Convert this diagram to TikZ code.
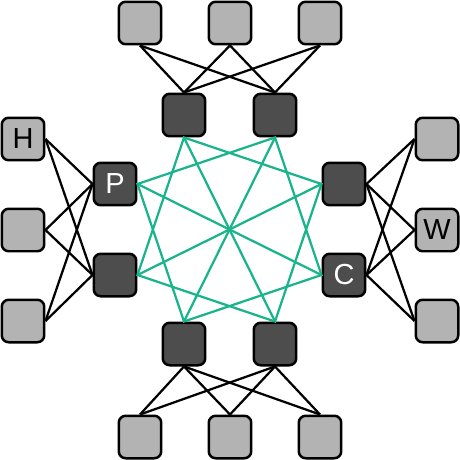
\documentclass[tikz,border=0pt]{standalone}
\usepackage{fontspec}
\setsansfont{Liberation Sans}
\usepackage{xcolor}
\usepackage{tikz}
\usetikzlibrary{positioning}

\definecolor{lightbox}{HTML}{B3B3B3}
\definecolor{darkbox}{HTML}{4D4D4D}
\definecolor{meshgreen}{RGB}{26,180,140}

\tikzset{
  outer/.style={draw=black, fill=lightbox, line width=0.05cm, rounded corners=0.14cm,
    minimum size=0.85cm, inner sep=0pt, font=\sffamily\fontsize{16.5}{16.5}\selectfont, text=black},
  inner/.style={outer, fill=darkbox, text=white},
  wire/.style={black, line width=0.045cm},
  mesh/.style={meshgreen, line width=0.045cm}
}

\begin{document}
\begin{tikzpicture}[x=0.02cm, y=-0.02cm]
\useasboundingbox (0,0) rectangle (460,460);
% outer row, top
\node[outer] (t1) at (140,23) {};
\node[outer] (t2) at (230,23) {};
\node[outer] (t3) at (320,23) {};
% outer row, bottom
\node[outer] (b1) at (140,437) {};
\node[outer] (b2) at (230,437) {};
\node[outer] (b3) at (320,437) {};
% outer column, left
\node[outer] (l1) at (23,139) {H};
\node[outer] (l2) at (23,230) {};
\node[outer] (l3) at (23,321) {};
% outer column, right
\node[outer] (r1) at (437,139) {};
\node[outer] (r2) at (437,230) {W};
\node[outer] (r3) at (437,321) {};
% inner ring
\node[inner] (dt1) at (184,115) {};
\node[inner] (dt2) at (275,115) {};
\node[inner] (db1) at (184,344) {};
\node[inner] (db2) at (275,344) {};
\node[inner] (dl1) at (115,184) {P};
\node[inner] (dl2) at (115,275) {};
\node[inner] (dr1) at (344,184) {};
\node[inner] (dr2) at (344,275) {C};
% outer to inner wires
\foreach \i in {1,2,3}
  \foreach \j in {1,2} {
    \draw[wire] (t\i.south) -- (dt\j.north);
    \draw[wire] (b\i.north) -- (db\j.south);
    \draw[wire] (l\i.east) -- (dl\j.west);
    \draw[wire] (r\i.west) -- (dr\j.east);
  }
% green mesh: two squares and four diameters
\draw[mesh] (dt1.south) -- (dr1.west) -- (db2.north) -- (dl2.east) -- cycle;
\draw[mesh] (dt2.south) -- (dr2.west) -- (db1.north) -- (dl1.east) -- cycle;
\draw[mesh] (dt1.south) -- (db2.north);
\draw[mesh] (dt2.south) -- (db1.north);
\draw[mesh] (dr1.west) -- (dl2.east);
\draw[mesh] (dr2.west) -- (dl1.east);
\end{tikzpicture}
\end{document}
